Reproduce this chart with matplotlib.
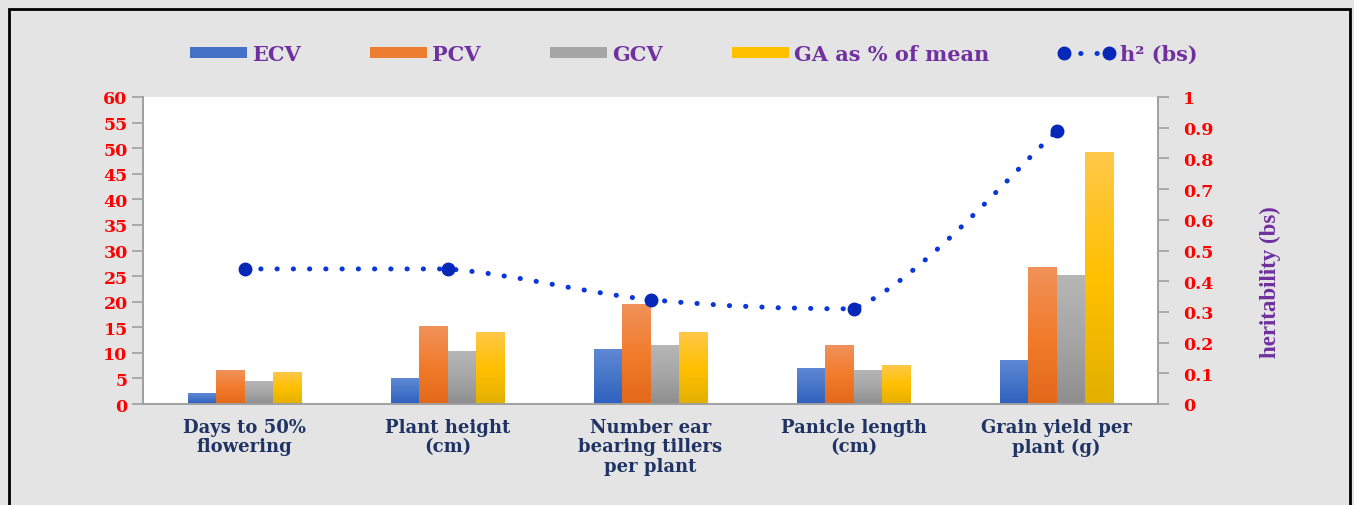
import numpy as np
import matplotlib
matplotlib.use("Agg")
import matplotlib.pyplot as plt
from matplotlib.colors import LinearSegmentedColormap
from matplotlib.patches import Rectangle, Patch, PathPatch
from matplotlib.path import Path
from matplotlib.lines import Line2D

# ---------------- data ----------------
categories = ["Days to 50%\nflowering", "Plant height\n(cm)",
              "Number ear\nbearing tillers\nper plant", "Panicle length\n(cm)",
              "Grain yield per\nplant (g)"]
ecv = [2.1, 5.0, 10.7, 6.9, 8.5]
pcv = [6.5, 15.2, 19.4, 11.5, 26.6]
gcv = [4.4, 10.2, 11.4, 6.5, 25.2]
ga_mean = [6.1, 14.0, 13.9, 7.5, 49.1]
h2_bs = [0.44, 0.44, 0.34, 0.31, 0.888]
series_names = ["ECV", "PCV", "GCV", "GA as % of mean"]
left_ticks = list(range(0, 61, 5))
right_ticks = [0, 0.1, 0.2, 0.3, 0.4, 0.5, 0.6, 0.7, 0.8, 0.9, 1]
right_ticklabels = ["0", "0.1", "0.2", "0.3", "0.4", "0.5", "0.6", "0.7", "0.8", "0.9", "1"]

# ---------------- style ----------------
W, H = 1354, 506
fig = plt.figure(figsize=(W / 100, H / 100), dpi=100)
fig.patch.set_facecolor("#e4e4e4")
serif = ["DejaVu Serif"]
red = "#ff0000"
purple = "#7030a0"
navy = "#1f3464"

ax = fig.add_axes([143 / W, 1 - 405 / H, (1158 - 143) / W, (405 - 98) / H])
ax.set_facecolor("white")
ax2 = ax.twinx()

solid = ["#4472c4", "#ed7d31", "#a5a5a5", "#ffc000"]
grads = [("#5f88d4", "#4676c8", "#2f60be"),
         ("#f0925a", "#f27c2c", "#e2681a"),
         ("#b6b6b6", "#a6a6a6", "#8e8e8e"),
         ("#ffc849", "#ffc000", "#e2b000")]

x = np.arange(len(categories))
bw = 0.14
all_series = [ecv, pcv, gcv, ga_mean]
grad = np.linspace(0, 1, 256).reshape(-1, 1)
for i, (vals, (top, mid, bot)) in enumerate(zip(all_series, grads)):
    bars = ax.bar(x + (i - 1.5) * bw, vals, width=bw, color=solid[i], zorder=2, linewidth=0)
    cmap = LinearSegmentedColormap.from_list("g%d" % i, [bot, mid, top])
    for b in bars:
        bx, w_, h_ = b.get_x(), b.get_width(), b.get_height()
        ax.imshow(grad, extent=(bx, bx + w_, 0, h_), origin="lower", cmap=cmap,
                  aspect="auto", zorder=2.1, interpolation="bilinear")

ax.set_xlim(-0.5, len(categories) - 0.5)
ax.set_ylim(0, 60)
ax.set_yticks(left_ticks)
ax.set_xticks(x)
ax.set_xticklabels(categories, fontfamily=serif, fontweight="bold", fontsize=13,
                   color=navy, linespacing=1.1)
ax.tick_params(axis="x", length=0, pad=10)
ax.tick_params(axis="y", direction="out", length=8, width=1.2, color="#a0a0a0",
               labelcolor=red, labelsize=12.5, pad=3)
for lab in ax.get_yticklabels():
    lab.set_fontfamily(serif)
    lab.set_fontweight("bold")

for a in (ax, ax2):
    a.spines["top"].set_visible(False)
    for s in ("left", "right", "bottom"):
        a.spines[s].set_color("#a0a0a0")
        a.spines[s].set_linewidth(1.2)

# ----- heritability line (smoothed rendering through the data points) -----
ax2.set_ylim(0, 1)
ax2.set_yticks(right_ticks)
ax2.set_yticklabels(right_ticklabels)
ax2.tick_params(axis="y", direction="out", length=8, width=1.2, color="#a0a0a0",
                labelcolor=red, labelsize=12.5, pad=10)
for lab in ax2.get_yticklabels():
    lab.set_fontfamily(serif)
    lab.set_fontweight("bold")
    lab.set_horizontalalignment("left")

pts = np.column_stack([x, h2_bs]).astype(float)
n = len(pts)
verts = [tuple(pts[0])]
codes = [Path.MOVETO]
for k in range(n - 1):
    p0 = pts[max(k - 1, 0)]
    p1 = pts[k]
    p2 = pts[k + 1]
    p3 = pts[min(k + 2, n - 1)]
    c1 = p1 + (p2 - p0) / 6.0
    c2 = p2 - (p3 - p1) / 6.0
    lo, hi = min(p1[1], p2[1]), max(p1[1], p2[1])
    c1[1] = np.clip(c1[1], lo, hi)
    c2[1] = np.clip(c2[1], lo, hi)
    verts += [tuple(c1), tuple(c2), tuple(p2)]
    codes += [Path.CURVE4] * 3
line_color = "#0a38d8"
pp = PathPatch(Path(verts, codes), facecolor="none", edgecolor=line_color,
               linewidth=3.6, linestyle=(0, (0.05, 3.2)), capstyle="round", zorder=3)
ax2.add_patch(pp)
ax2.plot(x, h2_bs, linestyle="none", marker="o", markersize=9,
         markerfacecolor="#0628b8", markeredgecolor="#0628b8", zorder=4)

fig.text(1270 / W, 1 - 282 / H, "heritability (bs)", rotation=90, ha="center", va="center",
         fontfamily=["Liberation Serif"], fontweight="bold", fontsize=16.5, color=purple)

# ----- legend -----
handles = [Patch(facecolor=c, edgecolor="none") for c in solid]
handles.append(Line2D([0, 1], [0, 0], color=line_color, linewidth=3.6,
                      linestyle=(0, (0.05, 3.2)), dash_capstyle="round",
                      marker="o", markersize=9, markerfacecolor="#0628b8",
                      markeredgecolor="#0628b8"))
labels = series_names + ["h² (bs)"]
leg = fig.legend(handles, labels, loc="center", bbox_to_anchor=(694 / W, 1 - 55 / H),
                 ncol=5, frameon=False, numpoints=2, handlelength=2.75, handleheight=0.45,
                 handletextpad=0.25, columnspacing=3.3,
                 prop={"family": serif, "weight": "bold", "size": 15})
for t in leg.get_texts():
    t.set_color(purple)

# ----- outer border -----
fig.add_artist(Rectangle((9 / W, -0.2), (1350 - 9) / W, 1.2 - 10 / H,
                         transform=fig.transFigure, facecolor="none",
                         edgecolor="black", linewidth=2.0, clip_on=False))

fig.savefig("out.png", dpi=100, facecolor=fig.get_facecolor())
